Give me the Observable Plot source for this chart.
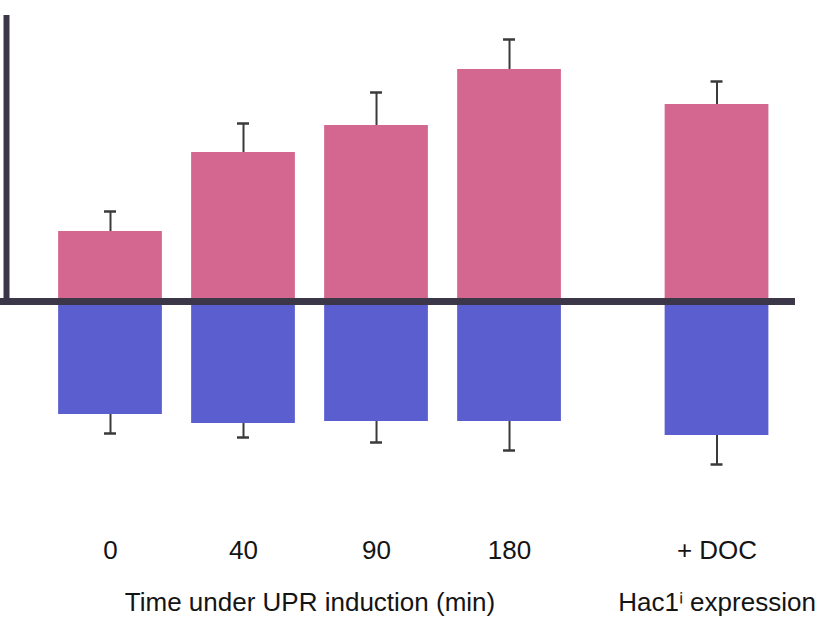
<!DOCTYPE html>
<html>
<head>
<meta charset="utf-8">
<script src="https://cdn.jsdelivr.net/npm/d3@7"></script>
<script src="https://cdn.jsdelivr.net/npm/@observablehq/plot@0.6"></script>
<style>
  html, body { margin: 0; padding: 0; background: #ffffff; }
  #chart { width: 818px; height: 620px; }
</style>
</head>
<body>
<div id="chart"></div>
<script>
// ---- data ----
const categories = ["0", "40", "90", "180", "+ DOC"];
const groups = ["time", "time", "time", "time", "hac1"];
const upValues = [0.70, 1.49, 1.76, 2.32, 1.97];
const upErrors = [0.20, 0.29, 0.33, 0.30, 0.23];
const downValues = [-1.13, -1.22, -1.20, -1.20, -1.34];
const downErrors = [0.19, 0.14, 0.21, 0.29, 0.29];
const groupNames = ["time", "hac1"];
const groupLabels = ["Time under UPR induction (min)", "Hac1\u2071 expression"];

// ---- layout ----
const groupGap = 0.56;          // extra space between groups (in slot units)
const halfBar = 0.39;
const halfCap = 0.045;
const pink = "#d4678f";
const blue = "#5a5ecf";
const axisColor = "#3b3749";
const errColor = "#3a3a3a";

let pos = 0;
const data = categories.map((c, i) => {
  if (i > 0 && groups[i] !== groups[i - 1]) pos += groupGap;
  const d = {cat: c, group: groups[i], pos, up: upValues[i], upErr: upErrors[i], down: downValues[i], downErr: downErrors[i]};
  pos += 1;
  return d;
});

const groupData = groupNames.map((g, i) => {
  const items = data.filter(d => d.group === g);
  return {label: groupLabels[i], pos: d3.mean(items, d => d.pos)};
});

const xDomain = [-0.827, 5.323];
const yDomain = [-1.99, 3.01];
const lastPos = data[data.length - 1].pos;

const chart = Plot.plot({
  width: 818,
  height: 620,
  marginTop: 0,
  marginBottom: 120,
  marginLeft: 0,
  marginRight: 0,
  x: {type: "linear", domain: xDomain, axis: null},
  y: {domain: yDomain, axis: null},
  style: {fontFamily: "'Liberation Sans', Arial, Helvetica, sans-serif", background: "#ffffff", color: "#141414"},
  marks: [
    // bars
    Plot.rectY(data, {x1: d => d.pos - halfBar, x2: d => d.pos + halfBar, y1: 0, y2: "up", fill: pink}),
    Plot.rectY(data, {x1: d => d.pos - halfBar, x2: d => d.pos + halfBar, y1: 0, y2: "down", fill: blue}),
    // error bars
    Plot.ruleX(data, {x: "pos", y1: "up", y2: d => d.up + d.upErr, stroke: errColor, strokeWidth: 2}),
    Plot.ruleY(data, {y: d => d.up + d.upErr, x1: d => d.pos - halfCap, x2: d => d.pos + halfCap, stroke: errColor, strokeWidth: 2.5}),
    Plot.ruleX(data, {x: "pos", y1: "down", y2: d => d.down - d.downErr, stroke: errColor, strokeWidth: 2}),
    Plot.ruleY(data, {y: d => d.down - d.downErr, x1: d => d.pos - halfCap, x2: d => d.pos + halfCap, stroke: errColor, strokeWidth: 2.5}),
    // zero line
    Plot.ruleY([0], {x1: xDomain[0], x2: lastPos + halfBar + 0.2, stroke: axisColor, strokeWidth: 7}),
    // vertical axis line
    Plot.ruleX([xDomain[0]], {dx: 6, y1: -0.04, y2: yDomain[1] - 0.15, stroke: axisColor, strokeWidth: 6}),
    // category labels
    Plot.axisX(data.map(d => d.pos), {
      tickFormat: p => data.find(d => d.pos === p).cat,
      tickSize: 0, tickPadding: 40, fontSize: 26, fill: "#141414", label: null
    }),
    // group labels
    Plot.axisX(groupData.map(d => d.pos), {
      tickFormat: p => groupData.find(d => d.pos === p).label,
      tickSize: 0, tickPadding: 92, fontSize: 26, fill: "#141414", label: null
    })
  ]
});

document.getElementById("chart").appendChild(chart);
</script>
</body>
</html>
